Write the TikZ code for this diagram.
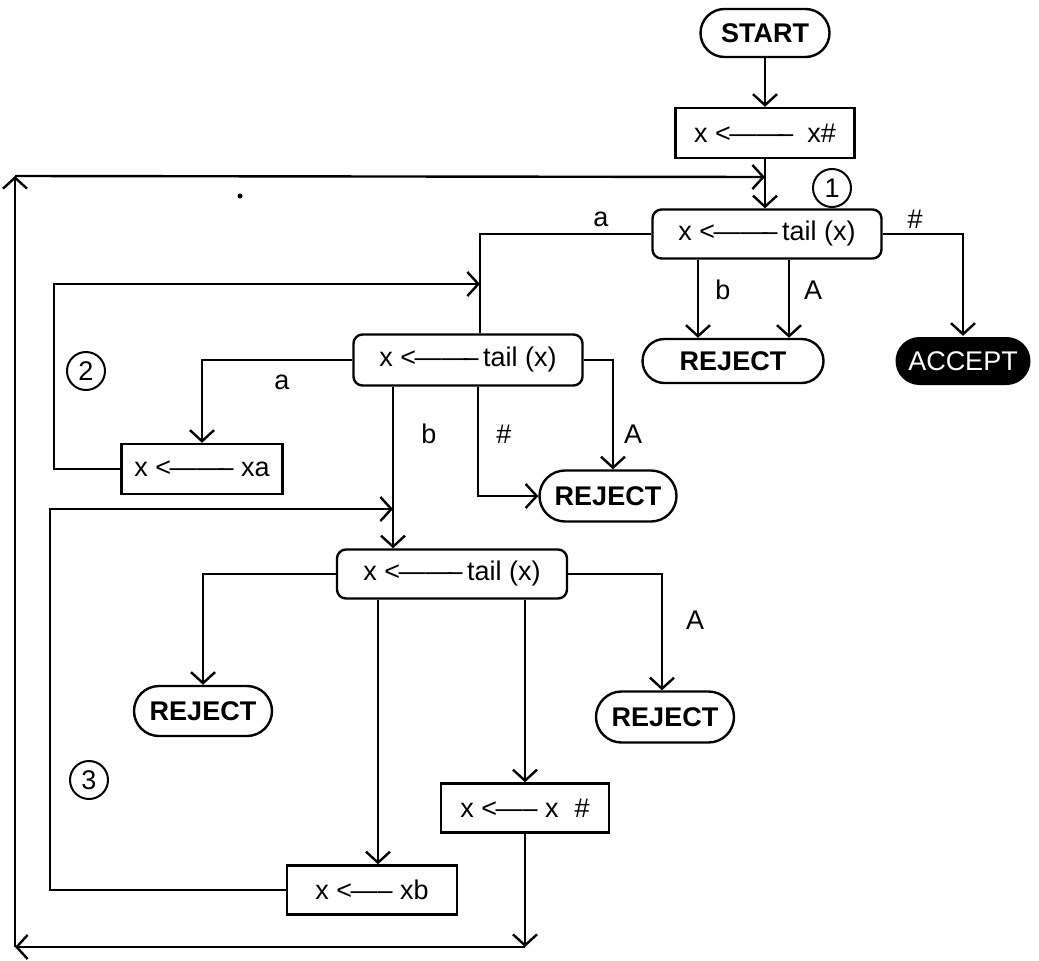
\documentclass[tikz,border=0pt]{standalone}
\usepackage{fontspec}
\setmainfont{Liberation Sans}
\usetikzlibrary{arrows.meta,positioning,shapes.misc}
\newcommand{\getsarrow}[1]{<\kern-1.5pt#1}

\begin{document}
\begin{tikzpicture}[
  x=1pt, y=-1pt,
  line width=2.4pt,
  every node/.style={font=\fontsize{27}{31}\selectfont},
  termbox/.style={rounded rectangle, draw, font=\fontsize{27}{31}\selectfont\bfseries, minimum height=48pt, inner xsep=6pt},
  acceptbox/.style={rounded rectangle, fill=black, text=white, minimum height=48pt, minimum width=143pt, inner xsep=4pt},
  tailbox/.style={draw, rounded corners=9pt, minimum width=229pt, minimum height=49pt, inner xsep=2pt},
  setbox/.style={draw, minimum height=50pt, inner xsep=2pt},
  stepno/.style={circle, draw, minimum size=38pt, inner sep=0pt, line width=2pt, font=\fontsize{27}{29}\selectfont},
  arr/.style={-{Straight Barb[length=11pt,width=24pt]}},
  lbl/.style={inner sep=0pt},
]
\useasboundingbox (0,0) rectangle (1039,961);

% ─── Boxes ───
\node[termbox, minimum width=141pt] (start) at (765,33) {START};
\node[setbox, minimum width=179pt] (init) at (765,133) {x \getsarrow{——\kern-5pt–}\hspace{14pt}x\#};
\node[tailbox] (tailA) at (767,234) {x \getsarrow{——\kern-5pt–}\,tail (x)};
\node[termbox, minimum width=193pt, minimum height=44pt] (rejA) at (733,361) {REJECT};
\node[acceptbox] (acc) at (963,361) {ACCEPT};

\node[tailbox, minimum height=51pt] (tailB) at (468,360) {x \getsarrow{——\kern-5pt–}\,tail (x)};
\node[setbox, minimum width=161pt] (setA) at (202,469) {x \getsarrow{——\kern-5pt–} xa};
\node[termbox, minimum width=149pt, minimum height=51pt] (rejB) at (608,496) {REJECT};

\node[tailbox, minimum width=230pt] (tailC) at (452,574) {x \getsarrow{——\kern-5pt–}\,tail (x)};
\node[termbox, minimum width=150pt, minimum height=50pt] (rejC) at (203,711) {REJECT};
\node[termbox, minimum width=150pt, minimum height=51pt] (rejD) at (665,717) {REJECT};
\node[setbox, minimum width=168pt, minimum height=49pt] (setH) at (525,808) {x \getsarrow{—–} x\hspace{16pt}\#};
\node[setbox, minimum width=170pt, minimum height=49pt] (setB) at (372,890) {x \getsarrow{—–} xb};

% loop numbers
\node[stepno] (num1) at (832,188) {1};
\node[stepno] (num2) at (86,371) {2};
\node[stepno] (num3) at (89,780) {3};

% ─── Bend points ───
\coordinate (bendB) at (480,0);
\coordinate (joinA) at (765,177);
\coordinate (joinB) at (480,284);
\coordinate (joinC) at (393,509);
\coordinate (loopB) at (54,284);
\coordinate (loopC) at (50,509);
\coordinate (bendH) at (478,497);
\coordinate (loopBR) at (525,947);
\coordinate (loopBL) at (15,947);
\coordinate (loopTL) at (15,176);

% ─── Connectors ───
\draw[arr] (start.south) -- (init.north);
\draw[arr] (init.south) -- (init.south |- tailA.north);

% state 1
\draw (tailA.west) -| (bendB |- tailB.north);
\draw[arr] ([xshift=-69pt]tailA.south) -- ([xshift=-69pt]tailA.south |- rejA.north);
\draw[arr] ([xshift=22pt]tailA.south) -- ([xshift=22pt]tailA.south |- rejA.north);
\draw[arr] (tailA.east) -| (acc.north);

% state 2
\draw[arr] (tailB.west) -| (setA.north);
\draw[arr] (setA.west) -| (loopB) -- (joinB);
\draw[arr] (tailB.south -| joinC) -- (joinC |- tailC.north);
\draw[arr] (tailB.south -| bendH) |- (rejB.west);
\draw[arr] (tailB.east) -| ([xshift=5pt]rejB.north);

% state 3
\draw[arr] (tailC.west) -| (rejC.north);
\draw[arr] ([xshift=-74pt]tailC.south) -- ([xshift=-74pt]tailC.south |- setB.north);
\draw[arr] ([xshift=73pt]tailC.south) -- ([xshift=73pt]tailC.south |- setH.north);
\draw[arr] (tailC.east) -| ([xshift=-3pt]rejD.north);
\draw[arr] (setB.west) -| (loopC) -- (joinC);

% outer loop
\draw[arr] (setH.south) -- (loopBR);
\draw[arr] (loopBR) -- (loopBL);
\draw[arr] (loopBL) -- (loopTL);
\draw[arr] (loopTL) -- (joinA);

% ─── Labels ───
\node[lbl] (labA1) at (601,219) {a};
\node[lbl] (labA2) at (723,290) {b};
\node[lbl] (labA3) at (813,290) {A};
\node[lbl] (labA4) at (915,219) {\#};
\node[lbl] (labB1) at (282,382) {a};
\node[lbl] (labB2) at (429,434) {b};
\node[lbl] (labB3) at (504,434) {\#};
\node[lbl] (labB4) at (633,434) {A};
\node[lbl] (labC1) at (695,620) {A};

\fill (240,196) circle (2.5pt);
\end{tikzpicture}
\end{document}
